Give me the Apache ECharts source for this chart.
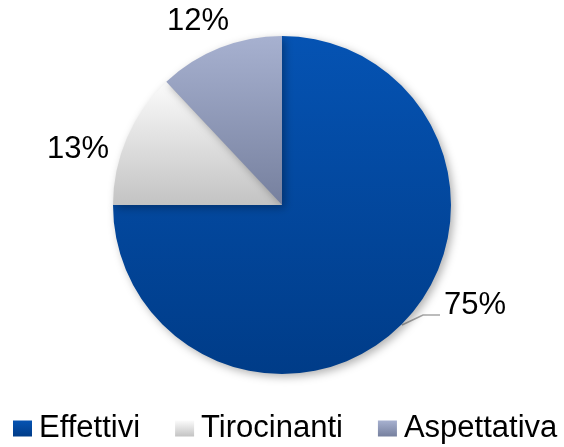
<!DOCTYPE html>
<html>
<head>
<meta charset="utf-8">
<script src="https://cdn.jsdelivr.net/npm/echarts@6/dist/echarts.min.js"></script>
<style>html,body{margin:0;padding:0;background:#fff;}#c{width:564px;height:447px;}</style>
</head>
<body>
<div id="c"></div>
<script>
var categories = ['Effettivi', 'Tirocinanti', 'Aspettativa'];
var values = [75, 13, 12];
var labelTexts = ['75%', '13%', '12%'];

var gradients = [
  ['#0553b3', '#003c88'],
  ['#fbfbfb', '#c3c3c3'],
  ['#a7b1d0', '#76809e']
];
// label positions (layout only)
var labelPos = [
  {x: 444, y: 305, align: 'left'},
  {x: 78, y: 149, align: 'center'},
  {x: 198, y: 21, align: 'center'}
];

var chart = echarts.init(document.getElementById('c'), null, {renderer: 'canvas'});
var data = categories.map(function (c, i) {
  return {
    name: c,
    value: values[i],
    itemStyle: {
      color: new echarts.graphic.LinearGradient(0, 0, 0, 1, [
        {offset: 0, color: gradients[i][0]},
        {offset: 1, color: gradients[i][1]}
      ])
    },
    labelLine: {show: i === 0}
  };
});

chart.setOption({
  animation: false,
  legend: {
    left: 13,
    top: 413,
    padding: 0,
    itemWidth: 19,
    itemHeight: 16,
    itemGap: 35,
    icon: 'rect',
    textStyle: {fontFamily: 'Liberation Sans, Arial, sans-serif', fontSize: 31, color: '#000', padding: [0, 0, 0, 2]},
    data: categories
  },
  series: [{
    type: 'pie',
    center: [282, 205],
    radius: [0, 169],
    startAngle: 90,
    clockwise: true,
    data: data,
    itemStyle: {
      shadowBlur: 8,
      shadowOffsetX: 3,
      shadowOffsetY: 3,
      shadowColor: 'rgba(0,0,0,0.3)'
    },
    label: {
      show: true,
      position: 'outside',
      formatter: function (p) { return labelTexts[p.dataIndex]; },
      fontFamily: 'Liberation Sans, Arial, sans-serif',
      fontSize: 31,
      color: '#000'
    },
    labelLine: {
      lineStyle: {color: '#a6a6a6', width: 1.5}
    },
    labelLayout: function (params) {
      var lp = labelPos[params.dataIndex];
      var res = {x: lp.x, y: lp.y, align: lp.align, verticalAlign: 'middle'};
      if (params.dataIndex === 0) {
        res.labelLinePoints = [[402, 325], [423, 315], [440, 315]];
      }
      return res;
    }
  }]
});
</script>
</body>
</html>
